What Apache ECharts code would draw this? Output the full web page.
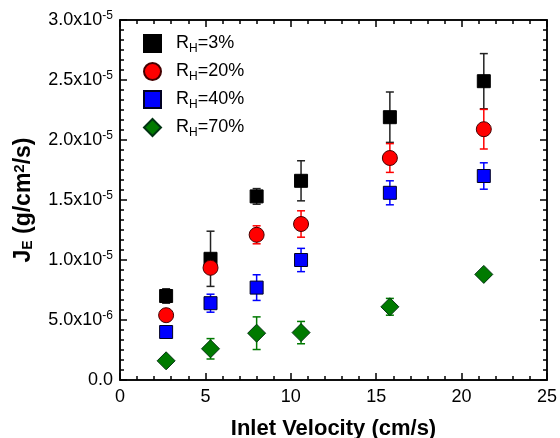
<!DOCTYPE html>
<html>
<head>
<meta charset="utf-8">
<script src="https://cdn.jsdelivr.net/npm/echarts@6/dist/echarts.min.js"></script>
<style>html,body{margin:0;padding:0;background:#fff}</style>
</head>
<body>
<div id="chart" style="width:560px;height:438px;"></div>
<script>
// inlet velocity (cm/s)
var velocity = [2.7, 5.3, 8.0, 10.6, 15.8, 21.3];
// evaporation flux J_E (g/cm2/s) and error half-widths
var rh3 = [7.0e-6, 10.1e-6, 15.3e-6, 16.6e-6, 21.9e-6, 24.9e-6];
var rh3Err = [0.6e-6, 2.3e-6, 0.65e-6, 1.67e-6, 2.1e-6, 2.3e-6];
var rh20 = [5.4e-6, 9.35e-6, 12.1e-6, 13.0e-6, 18.5e-6, 20.9e-6];
var rh20Err = [0, 0, 0.75e-6, 1.1e-6, 1.2e-6, 1.65e-6];
var rh40 = [4.0e-6, 6.4e-6, 7.7e-6, 10.0e-6, 15.6e-6, 17.0e-6];
var rh40Err = [0, 0.75e-6, 1.07e-6, 0.97e-6, 1.0e-6, 1.1e-6];
var rh70 = [1.6e-6, 2.6e-6, 3.9e-6, 3.95e-6, 6.1e-6, 8.8e-6];
var rh70Err = [0, 0.85e-6, 1.36e-6, 0.93e-6, 0.7e-6, 0];

var names = ['RH=3%', 'RH=20%', 'RH=40%', 'RH=70%'];
var labels = ['R{sub|H}=3%', 'R{sub|H}=20%', 'R{sub|H}=40%', 'R{sub|H}=70%'];

var chart = echarts.init(document.getElementById('chart'));

function pts(vals) {
    return vals.map(function (v, i) { return [velocity[i], v]; });
}
function errs(vals, e) {
    var out = [];
    vals.forEach(function (v, i) {
        if (e[i] > 0) out.push([velocity[i], v - e[i], v + e[i]]);
    });
    return out;
}
// error bars sit on the top/right axes (same scale as bottom/left)
function errorSeries(data, color) {
    return {
        type: 'custom',
        silent: true,
        z: 1,
        xAxisIndex: 1,
        yAxisIndex: 1,
        renderItem: function (params, api) {
            var x = api.value(0);
            var lo = api.coord([x, api.value(1)]);
            var hi = api.coord([x, api.value(2)]);
            var w = 4;
            var st = {stroke: color, lineWidth: 1.5};
            return {
                type: 'group',
                children: [
                    {type: 'line', shape: {x1: lo[0], y1: lo[1], x2: hi[0], y2: hi[1]}, style: st},
                    {type: 'line', shape: {x1: lo[0] - w, y1: lo[1], x2: lo[0] + w, y2: lo[1]}, style: st},
                    {type: 'line', shape: {x1: hi[0] - w, y1: hi[1], x2: hi[0] + w, y2: hi[1]}, style: st}
                ]
            };
        },
        encode: {x: 0, y: [1, 2]},
        data: data
    };
}
function yLabel(v) {
    if (v < 1e-12) return '0.0';
    var e = Math.floor(Math.log10(v) + 1e-9);
    return (v / Math.pow(10, e)).toFixed(1) + 'x10{sup|' + e + '}';
}

var tickStyle = {color: '#000', width: 1.5};
var majorTick = {show: true, inside: true, length: 7, lineStyle: tickStyle};
var axisLine = {show: true, onZero: false, lineStyle: {color: '#000', width: 1.5}};

var option = {
    animation: false,
    textStyle: {fontFamily: 'Liberation Sans'},
    grid: {left: 120, right: 13, top: 20, bottom: 58, outerBoundsMode: 'none',
           show: true, borderColor: '#000', borderWidth: 1.5},
    legend: {
        orient: 'vertical',
        left: 138,
        top: 29,
        itemGap: 7.5,
        itemWidth: 17,
        itemHeight: 17,
        data: names,
        formatter: function (n) { return labels[names.indexOf(n)]; },
        textStyle: {
            fontSize: 18, color: '#000', padding: [0, 0, 0, 10],
            rich: {sub: {fontSize: 12, padding: [10, 0, 0, 0]}}
        }
    },
    xAxis: [{
        type: 'value', min: 0, max: 25, interval: 5,
        name: 'Inlet Velocity (cm/s)', nameLocation: 'middle', nameGap: 38,
        nameTextStyle: {fontSize: 22, fontWeight: 'bold', color: '#000'},
        axisLine: axisLine,
        axisTick: majorTick,
        minorTick: {show: true, splitNumber: 5, length: 4, lineStyle: tickStyle},
        axisLabel: {fontSize: 18, color: '#000', margin: 8},
        splitLine: {show: false}
    }, {
        type: 'value', min: 0, max: 25, interval: 5, position: 'top',
        axisLine: axisLine,
        axisTick: majorTick,
        minorTick: {show: true, splitNumber: 5, length: 4, lineStyle: tickStyle},
        axisLabel: {show: false},
        splitLine: {show: false}
    }],
    yAxis: [{
        type: 'value', min: 0, max: 3e-5, interval: 5e-6,
        name: 'J{sub|E} (g/cm{sup|2}/s)', nameLocation: 'middle', nameGap: 84, nameRotate: 90,
        nameTextStyle: {
            fontSize: 23, fontWeight: 'bold', color: '#000',
            rich: {
                sub: {fontSize: 14, fontWeight: 'bold', padding: [8, 0, 0, 0]},
                sup: {fontSize: 15, fontWeight: 'bold', padding: [0, 0, 9, 0]}
            }
        },
        axisLine: axisLine,
        axisTick: majorTick,
        minorTick: {show: true, splitNumber: 6, length: 4, lineStyle: tickStyle},
        axisLabel: {
            fontSize: 18, color: '#000', margin: 7, formatter: yLabel,
            rich: {sup: {fontSize: 12, padding: [0, 0, 9, 0]}}
        },
        splitLine: {show: false}
    }, {
        type: 'value', min: 0, max: 3e-5, interval: 5e-6, position: 'right',
        axisLine: axisLine,
        axisTick: majorTick,
        minorTick: {show: true, splitNumber: 6, length: 4, lineStyle: tickStyle},
        axisLabel: {show: false},
        splitLine: {show: false}
    }],
    series: [
        errorSeries(errs(rh3, rh3Err), '#222'),
        errorSeries(errs(rh20, rh20Err), '#ff0000'),
        errorSeries(errs(rh40, rh40Err), '#0000ff'),
        errorSeries(errs(rh70, rh70Err), '#007a00'),
        {name: names[0], type: 'scatter', symbol: 'rect', symbolSize: 13,
         itemStyle: {color: '#000', borderColor: '#000', borderWidth: 1, opacity: 1}, data: pts(rh3)},
        {name: names[1], type: 'scatter', symbol: 'circle', symbolSize: 15,
         itemStyle: {color: '#ff0000', borderColor: '#400', borderWidth: 1, opacity: 1}, data: pts(rh20)},
        {name: names[2], type: 'scatter', symbol: 'rect', symbolSize: 13,
         itemStyle: {color: '#0000ff', borderColor: '#002', borderWidth: 1, opacity: 1}, data: pts(rh40)},
        {name: names[3], type: 'scatter', symbol: 'diamond', symbolSize: 18,
         itemStyle: {color: '#007a00', borderColor: '#031', borderWidth: 1, opacity: 1}, data: pts(rh70)}
    ]
};
chart.setOption(option);
</script>
</body>
</html>
